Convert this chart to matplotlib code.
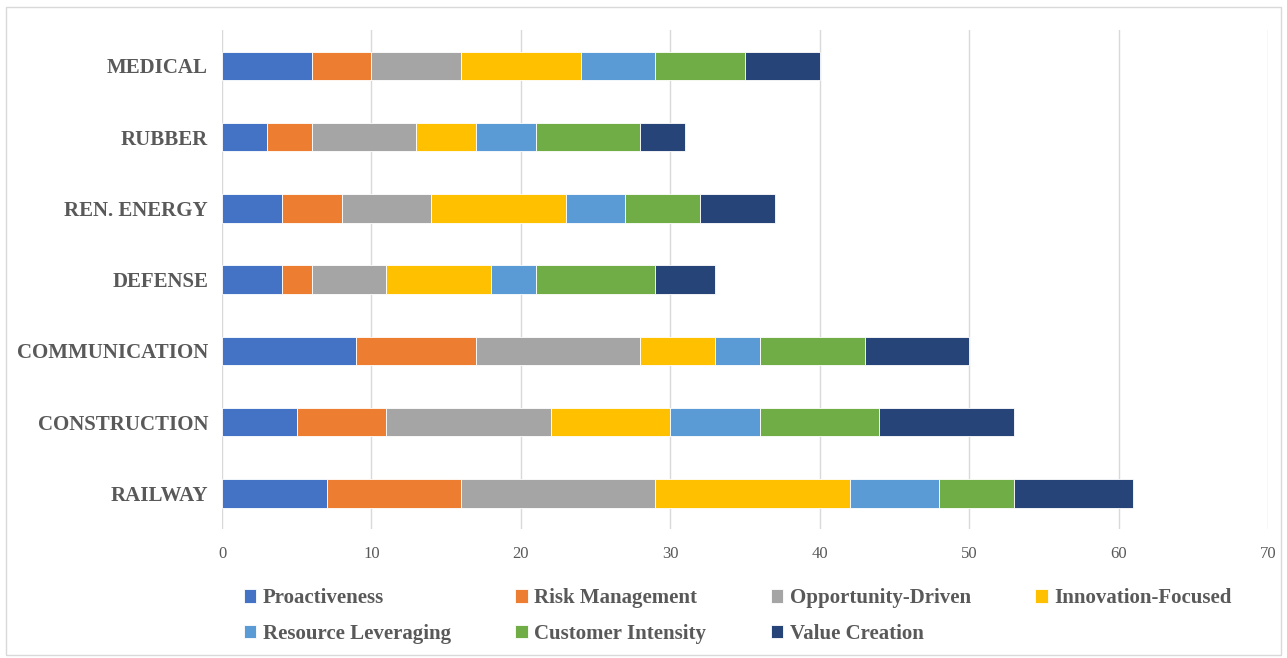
import numpy as np
import matplotlib.pyplot as plt
from matplotlib.patches import Rectangle

# Sectors (bottom to top) and dimension scores
sectors = ['RAILWAY', 'CONSTRUCTION', 'COMMUNICATION', 'DEFENSE',
           'REN. ENERGY', 'RUBBER', 'MEDICAL']
series_names = ['Proactiveness', 'Risk Management', 'Opportunity-Driven',
                'Innovation-Focused', 'Resource Leveraging',
                'Customer Intensity', 'Value Creation']
proactiveness = [7, 5, 9, 4, 4, 3, 6]
risk_management = [9, 6, 8, 2, 4, 3, 4]
opportunity_driven = [13, 11, 11, 5, 6, 7, 6]
innovation_focused = [13, 8, 5, 7, 9, 4, 8]
resource_leveraging = [6, 6, 3, 3, 4, 4, 5]
customer_intensity = [5, 8, 7, 8, 5, 7, 6]
value_creation = [8, 9, 7, 4, 5, 3, 5]

colors = ['#4472C4', '#ED7D31', '#A5A5A5', '#FFC000',
          '#5B9BD5', '#70AD47', '#264478']

data = [proactiveness, risk_management, opportunity_driven,
        innovation_focused, resource_leveraging, customer_intensity,
        value_creation]

txt = '#595959'
plt.rcParams['font.family'] = ['Liberation Serif', 'DejaVu Serif']

fig = plt.figure(figsize=(12.87, 6.58), dpi=100)
ax = fig.add_axes([0.1725, 0.196, 0.8127, 0.758])

y = np.arange(len(sectors))
left = np.zeros(len(sectors))
for name, vals, c in zip(series_names, data, colors):
    ax.barh(y, vals, left=left, height=0.4, color=c, label=name,
            edgecolor='white', linewidth=0.6, zorder=3)
    left += np.array(vals)

ax.set_xlim(0, 70)
ax.set_ylim(-0.5, len(sectors) - 0.5)
ax.set_xticks(range(0, 71, 10))
ax.set_yticks(y)
ax.set_yticklabels(sectors, fontsize=15, fontweight='bold', color=txt)
ax.tick_params(axis='x', labelsize=12, colors=txt, length=0, pad=12)
ax.tick_params(axis='y', length=0, pad=10)
ax.grid(axis='x', color='#D9D9D9', linewidth=1, zorder=0)
for s in ax.spines.values():
    s.set_visible(False)

# legend filled row by row, like the original
handles, labels = ax.get_legend_handles_labels()
order = [0, 4, 1, 5, 2, 6, 3]
leg = fig.legend([handles[i] for i in order], [labels[i] for i in order],
                 loc='lower left', bbox_to_anchor=(0.175, -0.007), ncol=4,
                 frameon=False, handlelength=0.6,
                 handleheight=0.6, handletextpad=0.3, columnspacing=3.1,
                 labelspacing=0.75, prop={'weight': 'bold', 'size': 15})
for t in leg.get_texts():
    t.set_color(txt)

# light outer frame like the chart area border
fig.patches.append(Rectangle((0.005, 0.005), 0.99, 0.985,
                             transform=fig.transFigure, fill=False,
                             edgecolor='#D9D9D9', linewidth=1))

fig.savefig('out.png', dpi=100)
